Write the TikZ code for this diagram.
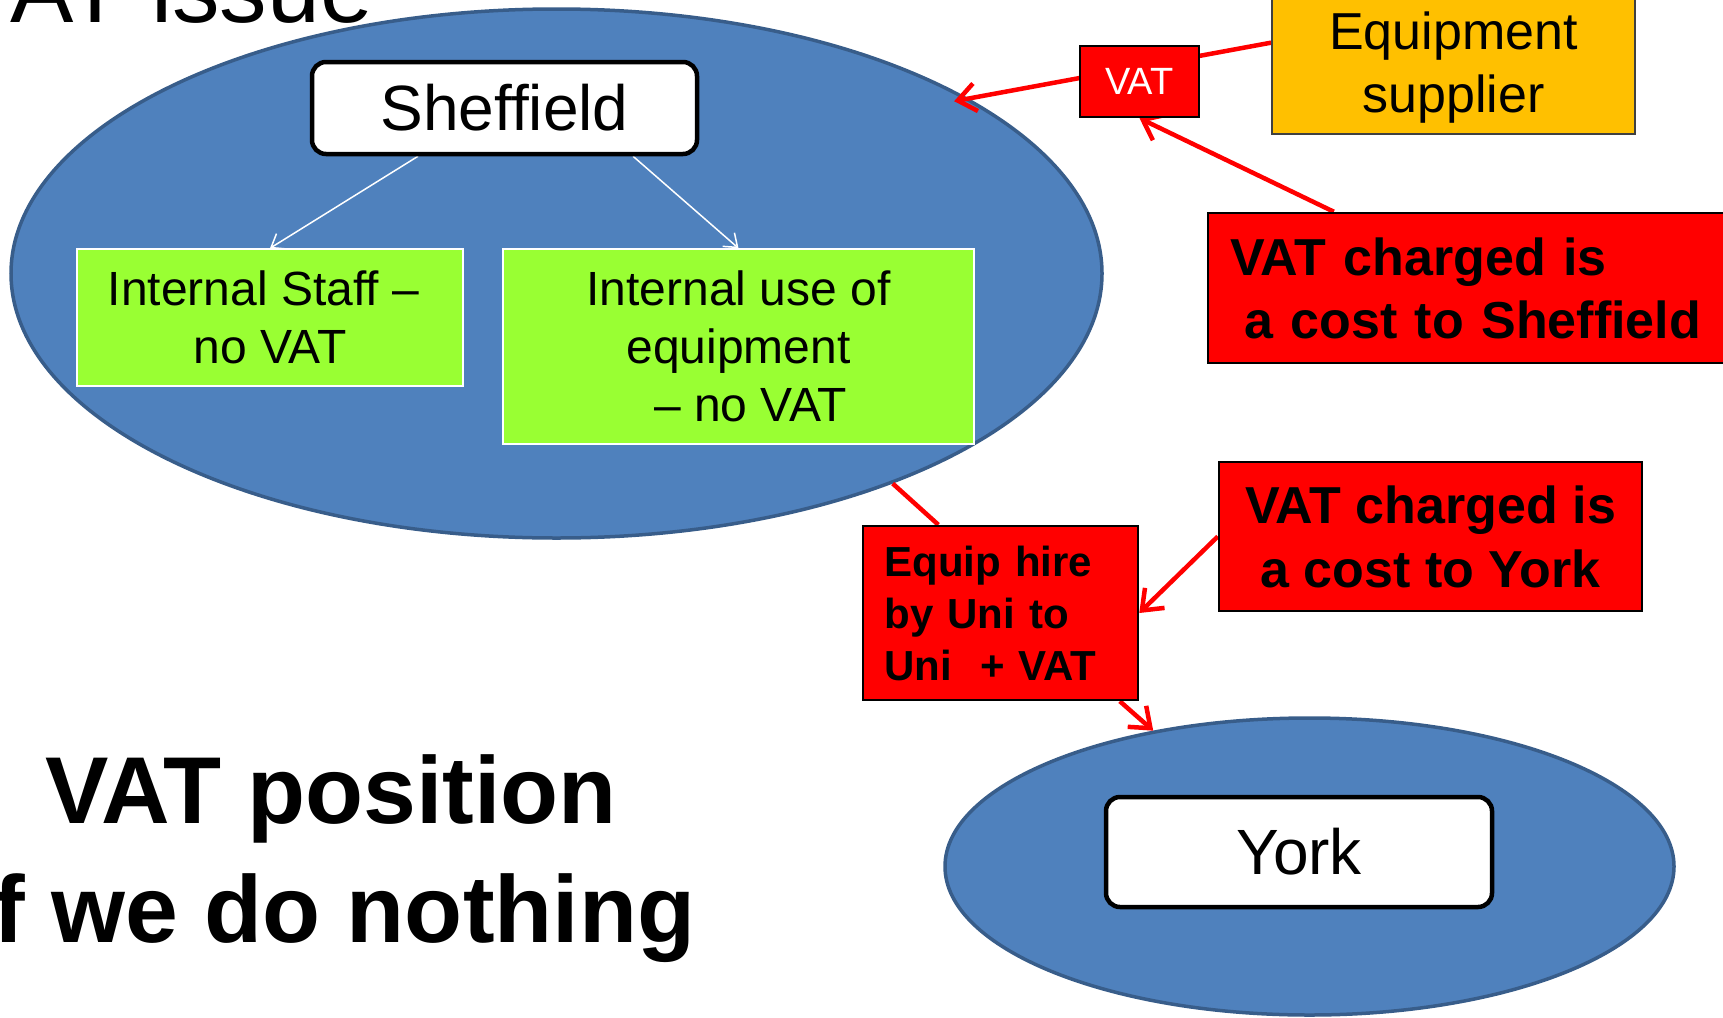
\documentclass[tikz,border=0pt]{standalone}
\usepackage{fontspec}
\setmainfont{Liberation Sans}
\usetikzlibrary{shapes.geometric,arrows.meta,calc}
\pgfdeclarelayer{bg}
\pgfdeclarelayer{fg}
\pgfsetlayers{bg,main,fg}
\definecolor{ellfill}{HTML}{4F81BD}
\definecolor{elldraw}{HTML}{385D8A}
\definecolor{grn}{HTML}{99FF33}
\definecolor{org}{HTML}{FFC000}
\definecolor{rd}{HTML}{FF0000}
\newcommand\myfs[2]{\fontsize{#1}{#2}\selectfont}
\begin{document}
\begin{tikzpicture}[x=1pt,y=-1pt,
  region/.style={ellipse, fill=ellfill, draw=elldraw, line width=3.5pt, inner sep=0},
  place/.style={rectangle, rounded corners=14pt, fill=white, draw=black, line width=4.5pt, inner sep=0, font=\myfs{64}{76}},
  internal/.style={rectangle, fill=grn, draw=white, line width=1.5pt, inner sep=0, align=center, font=\myfs{48}{58}},
  redbox/.style={rectangle, fill=rd, draw=black, line width=2.5pt, inner sep=0},
  redline/.style={draw=rd, line width=4.5pt},
  redarrow/.style={redline, -{Straight Barb[length=18pt,width=28pt]}},
  whitearrow/.style={draw=white, line width=1.5pt, -{Straight Barb[length=12pt,width=18pt]}},
]
\useasboundingbox (0,0) rectangle (1723,1017);
\begin{pgfonlayer}{bg}
  \node[region, minimum width=1091pt, minimum height=529pt] (shefE) at (556.5,273.5) {};
  \node[region, minimum width=729pt, minimum height=297pt] (yorkE) at (1309.5,866.5) {};
\end{pgfonlayer}

\node[anchor=base west, inner sep=0, font=\myfs{95}{114}] (title) at (-46,22) {VAT issue};
\node[align=center, inner sep=0, font=\bfseries\myfs{95}{119}] (pos) at (331,859) {VAT position\\If we do nothing};

\begin{pgfonlayer}{fg}
  \node[place, minimum width=385pt, minimum height=92pt] (shef) at (504.5,108) {Sheffield};
  \node[internal, minimum width=386pt, minimum height=137pt] (staff) at (270,317.5) {Internal Staff –\hspace*{0.278em}\\no VAT};
  \node[internal, minimum width=471pt, minimum height=195pt] (use) at (738.5,346.5) {Internal use of\\equipment\\\hspace*{0.5em}– no VAT};
  \node[place, minimum width=386pt, minimum height=110pt] (york) at (1299,852) {York};
  \node[rectangle, fill=org, draw=black!75, line width=2pt, minimum width=363pt, minimum height=145pt, align=center, font=\myfs{52}{63}, inner sep=0] (supp) at (1453.5,61.5) {\rule{0pt}{49pt}Equipment\\supplier};
  \node[redbox, minimum width=119pt, minimum height=71pt, text=white, font=\myfs{38}{46}] (vat) at (1139.5,81.5) {VAT};
  \node[redbox, text width=483pt, inner xsep=22pt, minimum height=150pt, align=left, font=\bfseries\myfs{52}{63}] (costS) at (1471.5,288) {VAT charged is\\\hspace*{0.278em}a cost to Sheffield};
  \node[redbox, minimum width=423pt, minimum height=149pt, align=center, font=\bfseries\myfs{52}{64}] (costY) at (1430.5,536.5) {VAT charged is\\a cost to York};
  \node[redbox, text width=232pt, inner xsep=21.5pt, minimum height=174pt, align=left, font=\bfseries\myfs{42}{52}] (equip) at (1000.5,613) {Equip hire\\by Uni to\\Uni~ + VAT};
\end{pgfonlayer}

\draw[whitearrow] ($(shef.south west)!0.278!(shef.south east)$) -- (staff.north);
\draw[whitearrow] ($(shef.south west)!0.83!(shef.south east)$) -- (use.north);
\draw[redarrow, shorten >=-15pt] ($(supp.north west)!0.372!(supp.south west)$) -- (shefE.23);
\draw[redarrow] ($(costS.north west)!0.24!(costS.north east)$) -- (vat.south);
\draw[redline] (shefE.-32) -- ($(equip.north west)!0.276!(equip.north east)$);
\draw[redarrow] (costY.west) -- (equip.east);
\draw[redarrow] ($(equip.south west)!0.93!(equip.south east)$) -- (yorkE.139);
\end{tikzpicture}
\end{document}
